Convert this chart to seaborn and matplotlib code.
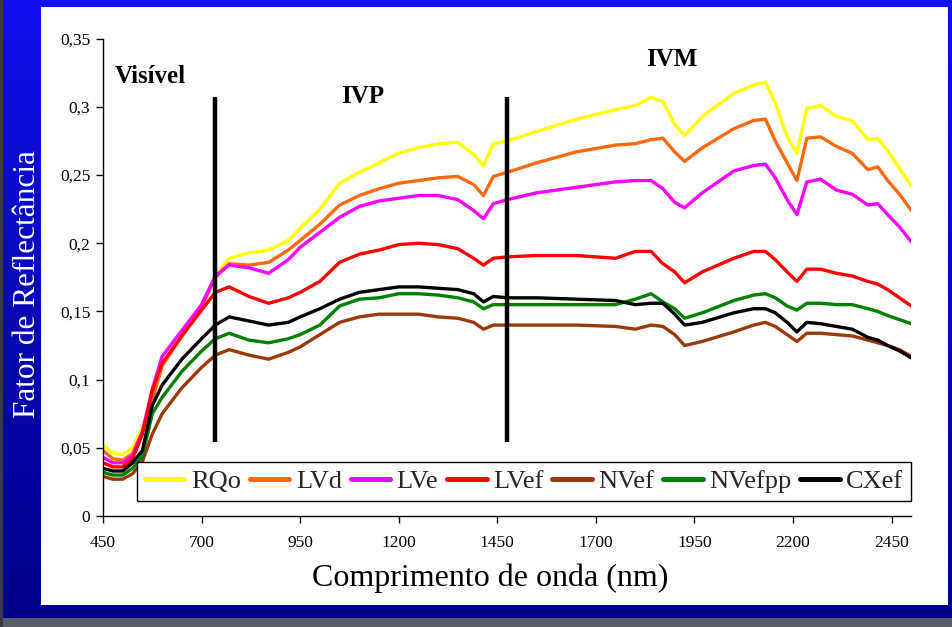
import numpy as np
import pandas as pd
import matplotlib
matplotlib.use("Agg")
import matplotlib.pyplot as plt
import seaborn as sns

# ---------------- data ----------------
wavelength = [450, 475, 500, 525, 550, 575, 600, 650, 700, 735, 770, 820, 870, 920, 950,
              1000, 1050, 1100, 1150, 1200, 1250, 1300, 1350, 1390, 1415, 1440, 1475,
              1550, 1650, 1750, 1800, 1840, 1870, 1900, 1925, 1970, 2050, 2100, 2130,
              2155, 2185, 2210, 2235, 2270, 2310, 2350, 2390, 2415, 2440, 2470, 2500]

RQo = [0.052, 0.046, 0.045, 0.050, 0.065, 0.086, 0.112, 0.133, 0.155, 0.176, 0.189, 0.193,
       0.195, 0.202, 0.211, 0.225, 0.244, 0.252, 0.259, 0.266, 0.270, 0.273, 0.274, 0.265,
       0.257, 0.273, 0.275, 0.282, 0.291, 0.298, 0.301, 0.307, 0.304, 0.287, 0.279, 0.293,
       0.310, 0.316, 0.318, 0.303, 0.278, 0.266, 0.299, 0.301, 0.293, 0.290, 0.276, 0.277,
       0.268, 0.255, 0.242]
LVd = [0.048, 0.042, 0.041, 0.046, 0.062, 0.085, 0.110, 0.132, 0.153, 0.175, 0.185, 0.184,
       0.186, 0.195, 0.202, 0.214, 0.228, 0.235, 0.240, 0.244, 0.246, 0.248, 0.249, 0.243,
       0.235, 0.249, 0.252, 0.259, 0.267, 0.272, 0.273, 0.276, 0.277, 0.267, 0.260, 0.270,
       0.284, 0.290, 0.291, 0.275, 0.259, 0.246, 0.277, 0.278, 0.271, 0.266, 0.254, 0.256,
       0.246, 0.236, 0.224]
LVe = [0.043, 0.039, 0.039, 0.044, 0.062, 0.093, 0.117, 0.136, 0.155, 0.176, 0.184, 0.182,
       0.178, 0.188, 0.197, 0.208, 0.219, 0.227, 0.231, 0.233, 0.235, 0.235, 0.232, 0.224,
       0.218, 0.229, 0.232, 0.237, 0.241, 0.245, 0.246, 0.246, 0.240, 0.230, 0.226, 0.237,
       0.253, 0.257, 0.258, 0.248, 0.232, 0.221, 0.245, 0.247, 0.239, 0.236, 0.228, 0.229,
       0.221, 0.212, 0.201]
LVef = [0.039, 0.036, 0.036, 0.042, 0.060, 0.092, 0.112, 0.132, 0.151, 0.164, 0.168, 0.161,
        0.156, 0.160, 0.164, 0.172, 0.186, 0.192, 0.195, 0.199, 0.200, 0.199, 0.196, 0.189,
        0.184, 0.189, 0.190, 0.191, 0.191, 0.189, 0.194, 0.194, 0.185, 0.179, 0.171, 0.179,
        0.189, 0.194, 0.194, 0.188, 0.179, 0.172, 0.181, 0.181, 0.178, 0.176, 0.172, 0.170,
        0.166, 0.160, 0.154]
NVef = [0.029, 0.027, 0.027, 0.031, 0.040, 0.060, 0.075, 0.094, 0.109, 0.118, 0.122, 0.118,
        0.115, 0.120, 0.124, 0.133, 0.142, 0.146, 0.148, 0.148, 0.148, 0.146, 0.145, 0.142,
        0.137, 0.140, 0.140, 0.140, 0.140, 0.139, 0.137, 0.140, 0.139, 0.133, 0.125, 0.128,
        0.135, 0.140, 0.142, 0.139, 0.133, 0.128, 0.134, 0.134, 0.133, 0.132, 0.129, 0.127,
        0.125, 0.122, 0.117]
NVefpp = [0.032, 0.030, 0.030, 0.035, 0.044, 0.075, 0.087, 0.106, 0.121, 0.130, 0.134, 0.129,
          0.127, 0.130, 0.133, 0.140, 0.154, 0.159, 0.160, 0.163, 0.163, 0.162, 0.160, 0.157,
          0.152, 0.155, 0.155, 0.155, 0.155, 0.155, 0.159, 0.163, 0.157, 0.152, 0.145, 0.149,
          0.158, 0.162, 0.163, 0.160, 0.154, 0.151, 0.156, 0.156, 0.155, 0.155, 0.152, 0.150,
          0.147, 0.144, 0.141]
CXef = [0.035, 0.033, 0.033, 0.039, 0.048, 0.081, 0.096, 0.115, 0.130, 0.140, 0.146, 0.143,
        0.140, 0.142, 0.146, 0.152, 0.159, 0.164, 0.166, 0.168, 0.168, 0.167, 0.166, 0.163,
        0.157, 0.161, 0.160, 0.160, 0.159, 0.158, 0.155, 0.156, 0.156, 0.148, 0.140, 0.142,
        0.149, 0.152, 0.152, 0.149, 0.142, 0.135, 0.142, 0.141, 0.139, 0.137, 0.131, 0.129,
        0.125, 0.121, 0.116]

series_names = ["RQo", "LVd", "LVe", "LVef", "NVef", "NVefpp", "CXef"]
series_values = [RQo, LVd, LVe, LVef, NVef, NVefpp, CXef]
series_colors = ["#FFFF00", "#FF6A10", "#FF00FF", "#FF0000", "#9A3A0A", "#008000", "#000000"]

x_ticks = [450, 700, 950, 1200, 1450, 1700, 1950, 2200, 2450]
y_ticks = [0, 0.05, 0.10, 0.15, 0.20, 0.25, 0.30, 0.35]
y_tick_labels = ["0", "0,05", "0,1", "0,15", "0,2", "0,25", "0,3", "0,35"]

region_bounds = [735, 1475]
region_line_range = [0.054, 0.307]
region_labels = ["Visível", "IVP", "IVM"]
region_label_pos = [(480, 0.322), (1108, 0.3074), (1892, 0.335)]

# ---------------- frame ----------------
df = pd.concat(
    [pd.DataFrame({"wl": wavelength, "refl": v, "solo": n})
     for n, v in zip(series_names, series_values)],
    ignore_index=True)

sns.set_style("ticks")
plt.rcParams["font.family"] = ["Liberation Serif", "DejaVu Serif"]

W, H = 953, 627
fig = plt.figure(figsize=(W / 100, H / 100), dpi=100)

# blue slide background with gradient
bg = fig.add_axes([0, 0, 1, 1], zorder=-10)
grad = np.linspace(0, 1, 256).reshape(-1, 1)
cmap = matplotlib.colors.LinearSegmentedColormap.from_list(
    "slide", ["#1010F0", "#0808B8", "#000088"])
bg.imshow(grad, aspect="auto", cmap=cmap, extent=[0, 1, 0, 1], origin="upper")
bg.add_patch(plt.Rectangle((0, 0), 1, 9 / H, color="#5a5e66", lw=0))
bg.add_patch(plt.Rectangle((0, 0), 3 / W, 1, color="#3a3a44", lw=0))
bg.add_patch(plt.Rectangle((41 / W, (H - 605) / H), (948 - 41) / W, (605 - 7) / H,
                           color="white", lw=0))
bg.set_xlim(0, 1)
bg.set_ylim(0, 1)
bg.axis("off")

ax = fig.add_axes([103 / W, (H - 516) / H, (911.3 - 103) / W, (516 - 38.7) / H])
ax.set_facecolor("white")

sns.lineplot(data=df, x="wl", y="refl", hue="solo", hue_order=series_names,
             palette=series_colors, sort=False, linewidth=2.4, ax=ax)

ax.vlines(region_bounds, region_line_range[0], region_line_range[1],
          colors="black", linewidth=3.2, zorder=5)
for lab, (xx, yy) in zip(region_labels, region_label_pos):
    ha = "left" if lab == "Visível" else "center"
    ax.text(xx, yy, lab, fontsize=18, fontweight="bold", ha=ha, va="center", color="black")

ax.set_xlim(450, 2500)
ax.set_ylim(0, 0.35)
ax.set_xticks(x_ticks)
ax.set_yticks(y_ticks)
ax.set_yticklabels(y_tick_labels)
ax.tick_params(axis="both", direction="out", length=5, width=1, labelsize=12.5,
               colors="black", pad=4)
ax.tick_params(axis="x", pad=9)
for side in ["top", "right"]:
    ax.spines[side].set_visible(False)
for side in ["left", "bottom"]:
    ax.spines[side].set_color("black")
    ax.spines[side].set_linewidth(1)
ax.set_xlabel("")
ax.set_ylabel("")

handles, labels = ax.get_legend_handles_labels()
for h in handles:
    h.set_linewidth(3.6)
leg = ax.legend(handles, labels, loc="lower right", bbox_to_anchor=(1.0, 0.031),
                ncol=7, fontsize=19, frameon=True, fancybox=False, shadow=False,
                handlelength=1.5, handletextpad=0.25, columnspacing=0.33,
                borderpad=0.3, borderaxespad=0)
leg.get_frame().set_edgecolor("black")
leg.get_frame().set_linewidth(1)
leg.get_frame().set_alpha(1)

fig.text(490 / W, (H - 578) / H, "Comprimento de onda (nm)", fontsize=23,
         ha="center", va="center", color="black")
fig.text(28 / W, (H - 284) / H, "Fator de Reflectância", fontsize=22.5,
         rotation=90, ha="center", va="center", color="white")

fig.savefig("out.png", dpi=100)
